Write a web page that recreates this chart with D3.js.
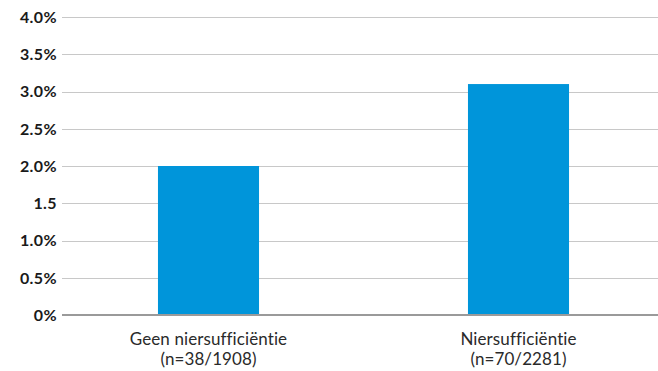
<!DOCTYPE html>
<html>
<head>
<meta charset="utf-8">
<script src="https://cdn.jsdelivr.net/npm/d3@7/dist/d3.min.js"></script>
<style>
  html, body { margin: 0; padding: 0; background: #fff; }
  svg { display: block; }
  .tick-y { font-family: Lato, "Noto Sans", sans-serif; font-weight: 700; font-size: 16px; letter-spacing: 0.4px; fill: #1a1a1a; }
  .cat { font-family: Lato, "Noto Sans", sans-serif; font-size: 17px; letter-spacing: 0.1px; fill: #2a2a2a; }
</style>
</head>
<body>
<svg id="chart" width="658" height="371"></svg>
<script>
// Share of patients with the event, by kidney function group
const categories = ["Geen niersufficiëntie", "Niersufficiëntie"];
const subLabels = ["(n=38/1908)", "(n=70/2281)"];
const values = [2.0, 3.1];
const tickValues = [0, 0.5, 1.0, 1.5, 2.0, 2.5, 3.0, 3.5, 4.0];
const tickLabels = ["0%", "0.5%", "1.0%", "1.5", "2.0%", "2.5%", "3.0%", "3.5%", "4.0%"];

const svg = d3.select("#chart");
const gridLeft = 62, gridRight = 658;

const y = d3.scaleLinear().domain([0, 4]).range([315, 17]);
const x = d3.scaleBand()
  .domain(categories)
  .range([53.5, 673.5])
  .paddingInner(0.674)
  .paddingOuter(0.337);

// horizontal gridlines
svg.append("g").selectAll("line")
  .data(tickValues.filter(v => v > 0))
  .join("line")
  .attr("x1", gridLeft).attr("x2", gridRight)
  .attr("y1", d => Math.round(y(d)) + 0.5).attr("y2", d => Math.round(y(d)) + 0.5)
  .attr("stroke", "#c8c8c8").attr("stroke-width", 1);

// bars
svg.append("g").selectAll("rect")
  .data(values)
  .join("rect")
  .attr("x", (d, i) => x(categories[i]))
  .attr("width", x.bandwidth())
  .attr("y", d => y(d))
  .attr("height", d => y(0) - y(d))
  .attr("fill", "#0095da");

// baseline
svg.append("line")
  .attr("x1", gridLeft).attr("x2", gridRight)
  .attr("y1", y(0)).attr("y2", y(0))
  .attr("stroke", "#9a9a9a").attr("stroke-width", 2);

// y tick labels
svg.append("g").selectAll("text")
  .data(tickValues)
  .join("text")
  .attr("class", "tick-y")
  .attr("x", 57)
  .attr("y", d => y(d))
  .attr("dy", "0.36em")
  .attr("text-anchor", "end")
  .text((d, i) => tickLabels[i]);

// category labels, two lines each
const cats = svg.append("g").selectAll("text")
  .data(categories)
  .join("text")
  .attr("class", "cat")
  .attr("text-anchor", "middle");
cats.append("tspan").attr("x", d => x(d) + x.bandwidth() / 2).attr("y", 345).text(d => d);
cats.append("tspan").attr("x", d => x(d) + x.bandwidth() / 2).attr("y", 365).text((d, i) => subLabels[i]);
</script>
</body>
</html>
